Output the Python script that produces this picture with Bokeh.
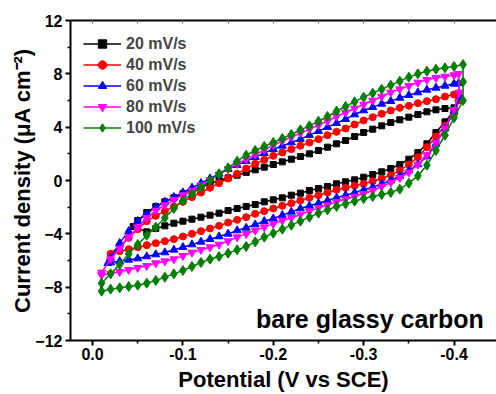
from bokeh.plotting import figure
from bokeh.models import Range1d, FixedTicker, LinearAxis, Label, NumeralTickFormatter
from bokeh.embed import file_html
from bokeh.resources import INLINE

FONT = "Liberation Sans"

# potential grid (V vs SCE)
GRID = [-0.01, -0.02, -0.03, -0.04, -0.05, -0.06, -0.07, -0.08, -0.09, -0.10,
        -0.11, -0.12, -0.13, -0.14, -0.15, -0.16, -0.17, -0.18, -0.19, -0.20,
        -0.21, -0.22, -0.23, -0.24, -0.25, -0.26, -0.27, -0.28, -0.29, -0.30,
        -0.31, -0.32, -0.33, -0.34, -0.35, -0.36, -0.37, -0.38, -0.39, -0.40,
        -0.41]

X_TICKS = [0.0, -0.1, -0.2, -0.3, -0.4]
X_MINOR = [0.05, -0.05, -0.15, -0.25, -0.35, -0.45]
Y_TICKS = [-12, -8, -4, 0, 4, 8, 12]
Y_MINOR = [-10, -6, -2, 2, 6, 10]

# 20 mV/s
E20_START = [-0.045]
J20_START = [-3.45]
J20_UP = [-3.0, -2.4, -1.95, -1.6, -1.3, -1.0, -0.75, -0.5, -0.25, 0.0,
          0.2, 0.4, 0.6, 0.8, 1.0, 1.2, 1.4, 1.6, 1.8, 2.0, 2.25, 2.5, 2.75, 3.0,
          3.3, 3.6, 3.85, 4.1, 4.35, 4.55, 4.75, 4.95, 5.15, 5.3, 5.4, 5.45]
J20_DN = [5.2, 4.4, 3.6, 2.75, 2.1, 1.6, 1.2, 0.9, 0.65, 0.45, 0.25, 0.05, -0.1,
          -0.25, -0.45, -0.6, -0.75, -0.95, -1.1, -1.3, -1.45, -1.6, -1.8, -1.95,
          -2.1, -2.25, -2.45, -2.6, -2.75, -2.9, -3.05, -3.2, -3.4, -3.6, -3.85]
# 40 mV/s
J40_UP = [-5.5, -4.9, -4.3, -3.65, -3.05, -2.65, -2.3, -1.95, -1.6, -1.25, -0.9,
          -0.55, -0.2, 0.15, 0.5, 0.9, 1.25, 1.55, 1.85, 2.1, 2.35, 2.6, 2.85, 3.1,
          3.4, 3.65, 3.9, 4.2, 4.5, 4.75, 5.0, 5.25, 5.45, 5.6, 5.8, 5.95, 6.1,
          6.3, 6.45]
E40_TURN = [-0.405, -0.405]
J40_TURN = [6.55, 6.0]
J40_DN = [5.0, 4.1, 3.3, 2.5, 1.75, 1.2, 0.75, 0.4, 0.15, -0.05, -0.25, -0.4,
          -0.55, -0.7, -0.9, -1.1, -1.3, -1.5, -1.7, -1.9, -2.1, -2.3, -2.5, -2.75,
          -2.95, -3.15, -3.4, -3.6, -3.8, -4.0, -4.2, -4.4, -4.55, -4.7, -4.85,
          -5.0, -5.15, -5.3]
# 60 mV/s
E60_START = [-0.017]
J60_START = [-6.2]
J60_UP = [-5.8, -4.7, -3.8, -3.05, -2.5, -2.0, -1.6, -1.25, -0.9, -0.55, -0.2,
          0.15, 0.5, 0.85, 1.15, 1.45, 1.75, 2.05, 2.35, 2.6, 2.85, 3.1, 3.4, 3.7,
          4.0, 4.3, 4.6, 4.95, 5.25, 5.5, 5.75, 5.95, 6.2, 6.4, 6.6, 6.8, 6.95,
          7.1, 7.25]
E60_TURN = [-0.405, -0.407]
J60_TURN = [7.3, 6.3]
J60_DN = [5.2, 3.9, 2.75, 1.8, 1.2, 0.75, 0.35, 0.0, -0.25, -0.5, -0.7, -0.9,
          -1.1, -1.3, -1.5, -1.7, -1.9, -2.1, -2.35, -2.6, -2.85, -3.05, -3.3,
          -3.55, -3.75, -4.0, -4.2, -4.4, -4.6, -4.8, -5.0, -5.2, -5.4, -5.55,
          -5.7, -5.85, -5.95, -6.05, -6.15]
# 80 mV/s
J80_UP = [-6.9, -5.9, -5.1, -4.25, -3.5, -2.8, -2.25, -1.85, -1.45, -1.1, -0.75,
          -0.35, 0.05, 0.45, 0.85, 1.25, 1.6, 1.95, 2.3, 2.65, 2.95, 3.25, 3.55,
          3.85, 4.15, 4.45, 4.8, 5.1, 5.4, 5.7, 6.0, 6.3, 6.6, 6.85, 7.1, 7.35,
          7.55, 7.7, 7.8, 7.9]
E80_TURN = [-0.405, -0.406]
J80_TURN = [8.0, 6.6]
J80_DN = [5.3, 3.9, 2.8, 1.9, 1.2, 0.6, 0.2, -0.15, -0.45, -0.75, -1.0, -1.2,
          -1.4, -1.6, -1.85, -2.05, -2.3, -2.55, -2.8, -3.0, -3.25, -3.5, -3.75,
          -4.0, -4.25, -4.55, -4.8, -5.0, -5.2, -5.4, -5.65, -5.9, -6.05, -6.2,
          -6.4, -6.55, -6.7, -6.85, -7.0, -7.1]
# 100 mV/s
J100_UP = [-7.7, -7.0, -6.3, -5.5, -4.8, -4.1, -3.5, -2.8, -2.1, -1.5, -1.0, -0.5,
           0.0, 0.5, 0.95, 1.45, 1.9, 2.25, 2.55, 2.85, 3.15, 3.45, 3.8, 4.1, 4.45,
           4.8, 5.2, 5.55, 5.9, 6.25, 6.55, 6.85, 7.15, 7.45, 7.75, 8.0, 8.2, 8.35,
           8.45, 8.55, 8.7]
E100_TURN = [-0.41, -0.41]
J100_TURN = [7.4, 6.0]
J100_DN = [4.7, 3.4, 2.25, 1.15, 0.35, -0.2, -0.65, -0.9, -1.05, -1.2, -1.35,
           -1.55, -1.75, -1.95, -2.2, -2.45, -2.75, -3.05, -3.35, -3.65, -3.95,
           -4.25, -4.6, -4.95, -5.2, -5.45, -5.7, -5.9, -6.15, -6.45, -6.75, -7.0,
           -7.25, -7.5, -7.7, -7.85, -7.95, -8.05, -8.15, -8.3]

LABELS = ["20 mV/s", "40 mV/s", "60 mV/s", "80 mV/s", "100 mV/s"]
COLORS = ["#000000", "#FF0000", "#0000FF", "#FF00FF", "#008000"]
MARKERS = ["square", "circle", "triangle", "inverted_triangle", "diamond"]
SIZES = [6, 7, 8, 8, 10]

loops = [
    (E20_START + GRID[4:40], J20_START + J20_UP, [], [], GRID[5:40][::-1], J20_DN),
    (GRID[1:40], J40_UP, E40_TURN, J40_TURN, GRID[2:40][::-1], J40_DN),
    (E60_START + GRID[1:40], J60_START + J60_UP, E60_TURN, J60_TURN, GRID[1:40][::-1], J60_DN),
    (GRID[0:40], J80_UP, E80_TURN, J80_TURN, GRID[0:40][::-1], J80_DN),
    (GRID[0:41], J100_UP, E100_TURN, J100_TURN, GRID[0:40][::-1], J100_DN),
]

p = figure(width=496, height=394, output_backend="svg", toolbar_location=None,
           x_range=Range1d(0.0244, -0.447), y_range=Range1d(-12, 12),
           min_border_left=70, min_border_right=0, min_border_top=20,
           min_border_bottom=54)
p.xgrid.visible = False
p.ygrid.visible = False
p.outline_line_color = None
p.background_fill_color = "white"
p.border_fill_color = "white"

for (eu, ju, et, jt, ed, jd), lab, col, mk, sz in zip(loops, LABELS, COLORS, MARKERS, SIZES):
    e = list(eu) + list(et) + list(ed)
    j = list(ju) + list(jt) + list(jd)
    p.line(e + [e[0]], j + [j[0]], line_color=col, line_width=1.5, legend_label=lab)
    p.scatter(e, j, marker=mk, size=sz, fill_color=col, line_color=col, legend_label=lab)

def style_axis(ax):
    ax.axis_line_width = 2
    ax.axis_line_color = "black"
    ax.major_tick_line_width = 2
    ax.minor_tick_line_width = 1.5
    ax.major_tick_in = 0
    ax.major_tick_out = 5
    ax.minor_tick_in = 0
    ax.minor_tick_out = 3
    ax.major_label_text_font = FONT
    ax.major_label_text_font_style = "bold"
    ax.major_label_text_font_size = "16px"
    ax.major_label_text_color = "black"
    ax.axis_label_text_font = FONT
    ax.axis_label_text_font_style = "bold"
    ax.axis_label_text_font_size = "22px"
    ax.axis_label_text_color = "black"

xa = p.xaxis[0]
style_axis(xa)
xa.ticker = FixedTicker(ticks=X_TICKS, minor_ticks=X_MINOR)
xa.formatter = NumeralTickFormatter(format="0.0")
xa.axis_label = "Potential (V vs SCE)"
xa.major_label_standoff = 2
xa.axis_label_standoff = 4

ya = p.yaxis[0]
style_axis(ya)
ya.ticker = FixedTicker(ticks=Y_TICKS, minor_ticks=Y_MINOR)
ya.axis_label = "Current density (\u03bcA cm\u207b\u00b2)"
ya.major_label_standoff = 3
ya.axis_label_standoff = -3

top = LinearAxis(ticker=FixedTicker(ticks=X_TICKS, minor_ticks=X_MINOR),
                 major_label_overrides={t: "" for t in X_TICKS},
                 axis_line_width=2, major_tick_in=3, major_tick_out=0,
                 minor_tick_in=3, minor_tick_out=0,
                 major_tick_line_color="#777777", minor_tick_line_color="#777777",
                 major_label_standoff=0)
p.add_layout(top, "above")

p.add_layout(Label(x=-0.433, y=-10.4, text="bare glassy carbon",
                   text_align="right", text_baseline="alphabetic",
                   text_font=FONT, text_font_style="bold", text_font_size="25px",
                   text_color="black"))

lg = p.legend[0]
lg.location = "top_left"
lg.margin = 6
lg.padding = 7
lg.spacing = 0
lg.glyph_width = 38
lg.glyph_height = 21
lg.label_height = 21
lg.label_standoff = 5
lg.label_text_font = FONT
lg.label_text_font_style = "bold"
lg.label_text_font_size = "16px"
lg.border_line_alpha = 0
lg.background_fill_alpha = 0

open("out.html", "w").write(file_html(p, INLINE))
